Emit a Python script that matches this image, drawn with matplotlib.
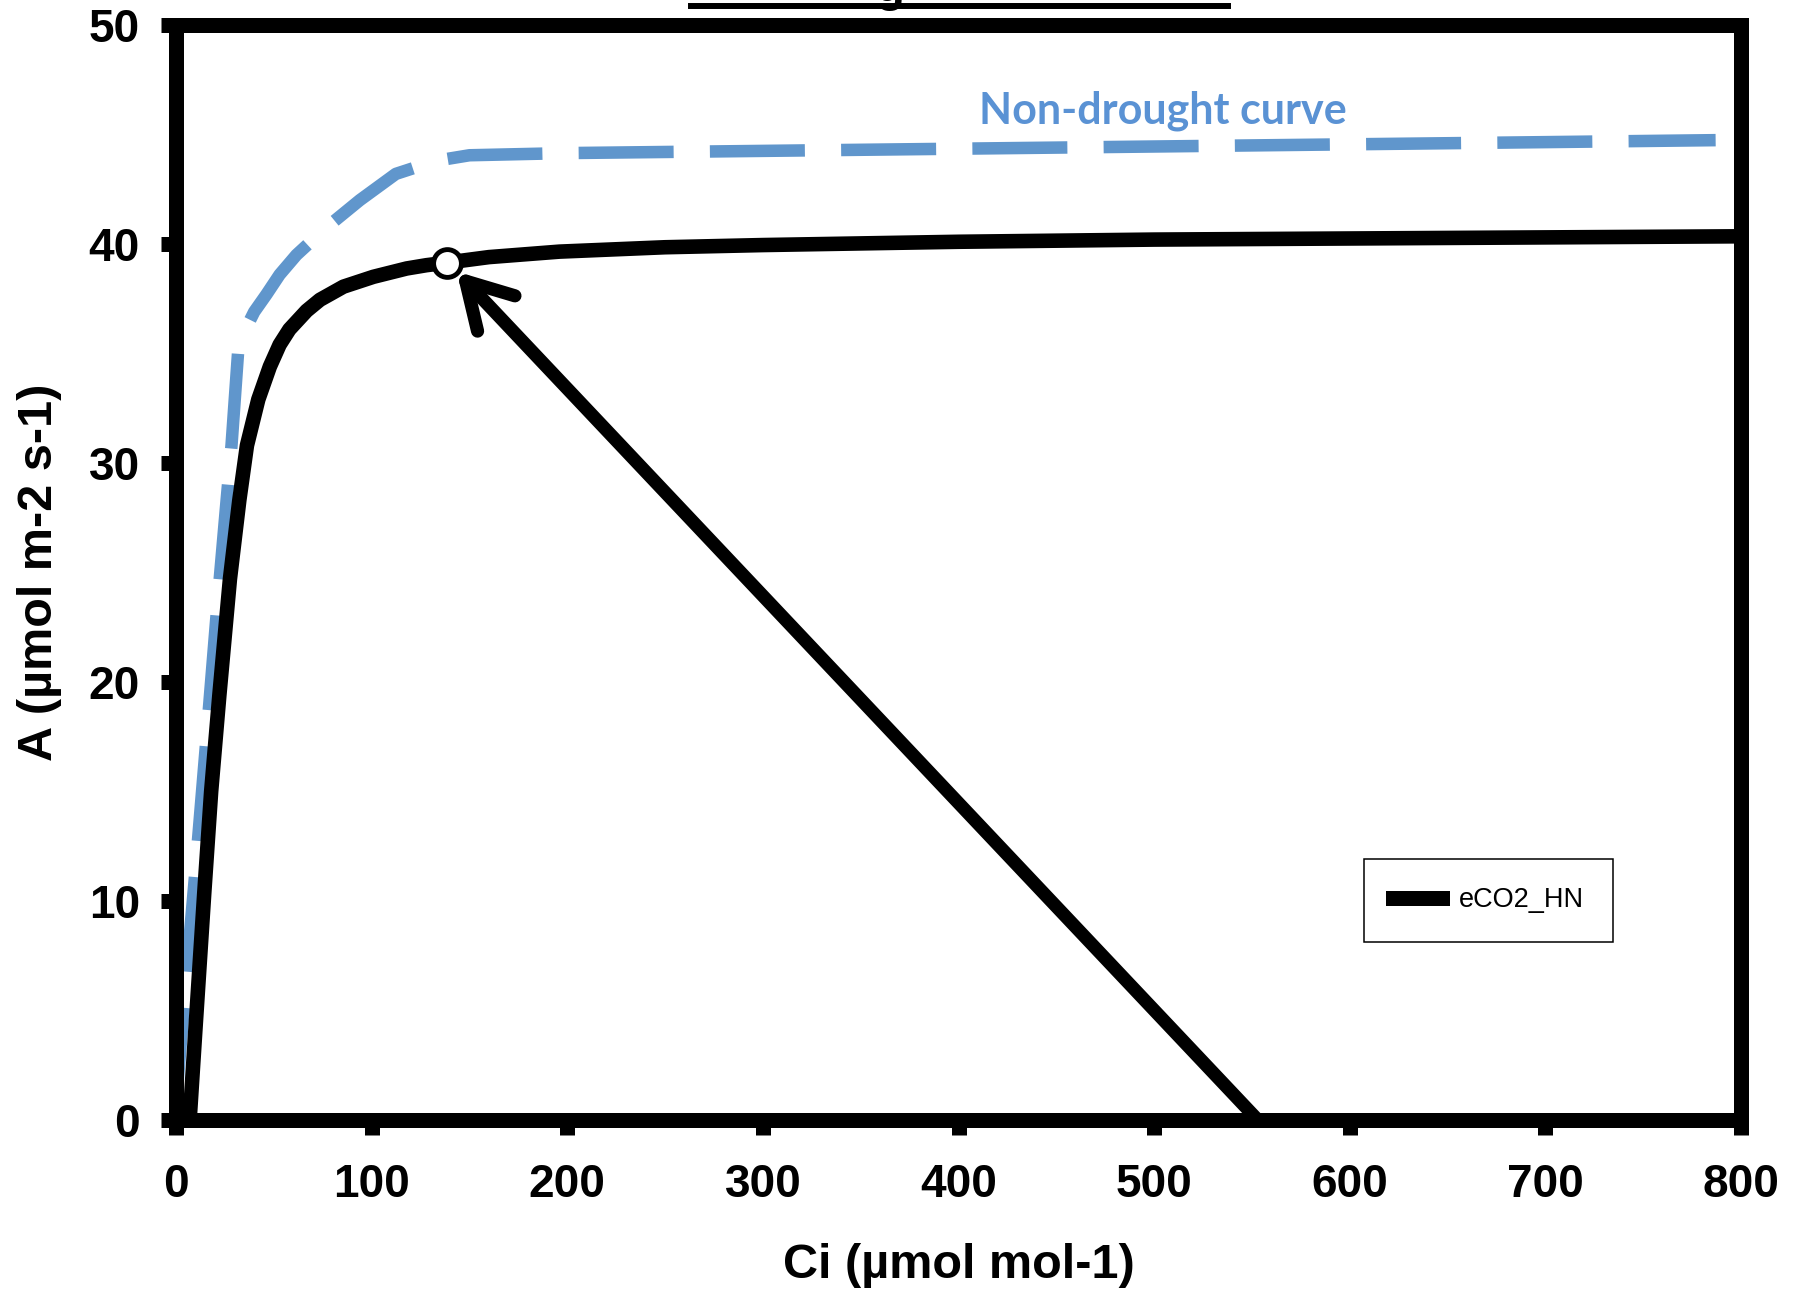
import matplotlib
matplotlib.use('Agg')
import matplotlib.pyplot as plt
from matplotlib.lines import Line2D

plt.rcParams['font.family'] = ['Liberation Sans', 'DejaVu Sans']

# eCO2_HN response curve (black)
ci_hn = [7, 10, 14.5, 18, 22.2, 27.6, 32.4, 36.3, 42.1, 48, 53, 58, 66.8, 73.6, 85.6,
         100.9, 117.9, 128, 138.7, 160, 196, 250, 300, 400, 500, 600, 700, 800]
a_hn = [0, 4.2, 10.4, 15.0, 19.4, 24.7, 28.3, 30.8, 32.9, 34.4, 35.4, 36.1, 36.95, 37.45, 38.05,
        38.5, 38.88, 39.03, 39.15, 39.4, 39.65, 39.85, 39.95, 40.1, 40.2, 40.25, 40.3, 40.35]

# non-drought curve (blue dashed)
ci_nd = [0, 5.5, 9.7, 15.3, 20.8, 25.9, 28.4, 31.8, 34.4, 40, 46.3, 53, 61.6, 76.2,
         94, 112.4, 133, 150, 200, 300, 400, 500, 600, 700, 787]
a_nd = [0.8, 6.8, 11.1, 17.1, 23.1, 28.3, 30.8, 35.1, 35.9, 36.9, 37.7, 38.6, 39.5, 40.7,
        42.0, 43.2, 43.8, 44.05, 44.15, 44.25, 44.35, 44.45, 44.55, 44.65, 44.74]

# operating point and arrow
op_ci, op_a = [138.7], [39.15]
arrow_start = (553, 0)
arrow_tip = (143.5, 38.74)

xticks = list(range(0, 801, 100))
yticks = list(range(0, 51, 10))

fig = plt.figure(figsize=(17.99, 12.93), dpi=100)
ax = fig.add_axes([0.0978, 0.1338, 0.87, 0.8469])

blue = '#6096CC'
ax.plot(ci_nd, a_nd, color=blue, lw=9, dashes=(7.6, 2.9), label='_nolegend_',
        solid_capstyle='butt')
ax.plot(ci_hn, a_hn, color='k', lw=10.5, label='eCO2_HN', solid_joinstyle='round')

ax.annotate('', xy=arrow_tip, xytext=arrow_start,
            arrowprops=dict(arrowstyle='->,head_length=32,head_width=18.5',
                            mutation_scale=1, lw=9.5, color='k',
                            shrinkA=0, shrinkB=0, capstyle='round',
                            joinstyle='round'))
ax.plot(op_ci, op_a, 'o', ms=20, mfc='white', mec='k', mew=3.5, zorder=6,
        label='_nolegend_')

ax.text(504.6, 45.5, 'Non-drought curve', color='#5A92D4', fontsize=31,
        fontweight='bold', family=['Lato', 'DejaVu Sans'], ha='center', va='baseline')

ax.set_xlim(0, 800)
ax.set_ylim(0, 50)
ax.set_xticks(xticks)
ax.set_yticks(yticks)
for s in ax.spines.values():
    s.set_linewidth(10.8)
    s.set_color('k')
ax.tick_params(direction='out', length=11, width=10.8, labelsize=33)
ax.tick_params(axis='x', pad=20)
ax.tick_params(axis='y', pad=15)
for lab in ax.get_xticklabels() + ax.get_yticklabels():
    lab.set_fontweight('bold')

ax.set_xlabel('Ci (µmol mol-1)', fontsize=35, fontweight='bold', va='center')
ax.set_ylabel('A (µmol m-2 s-1)', fontsize=35, fontweight='bold', va='center')
ax.xaxis.set_label_coords(0.5, -0.1329)
ax.yaxis.set_label_coords(-0.0869, 0.5)

leg = ax.legend(loc='center', bbox_to_anchor=(0.8387, 0.2005), frameon=True,
                fancybox=False, edgecolor='k', framealpha=1, fontsize=19.5,
                handlelength=1.8, handletextpad=0.65, borderpad=1.05)
leg.get_frame().set_linewidth(1.1)
leg.get_lines()[0].set_linewidth(10.8)

# cropped title: only the underline and a descender remain visible
fig.add_artist(Line2D([691 / 1799, 1228 / 1799], [1 - 6 / 1293] * 2, lw=4.3,
                      color='k', transform=fig.transFigure))
fig.text(890 / 1799, 1 - 1 / 1293, 'g', ha='center', va='baseline', fontsize=34,
         fontweight='bold')

fig.savefig('out.png', dpi=100)
